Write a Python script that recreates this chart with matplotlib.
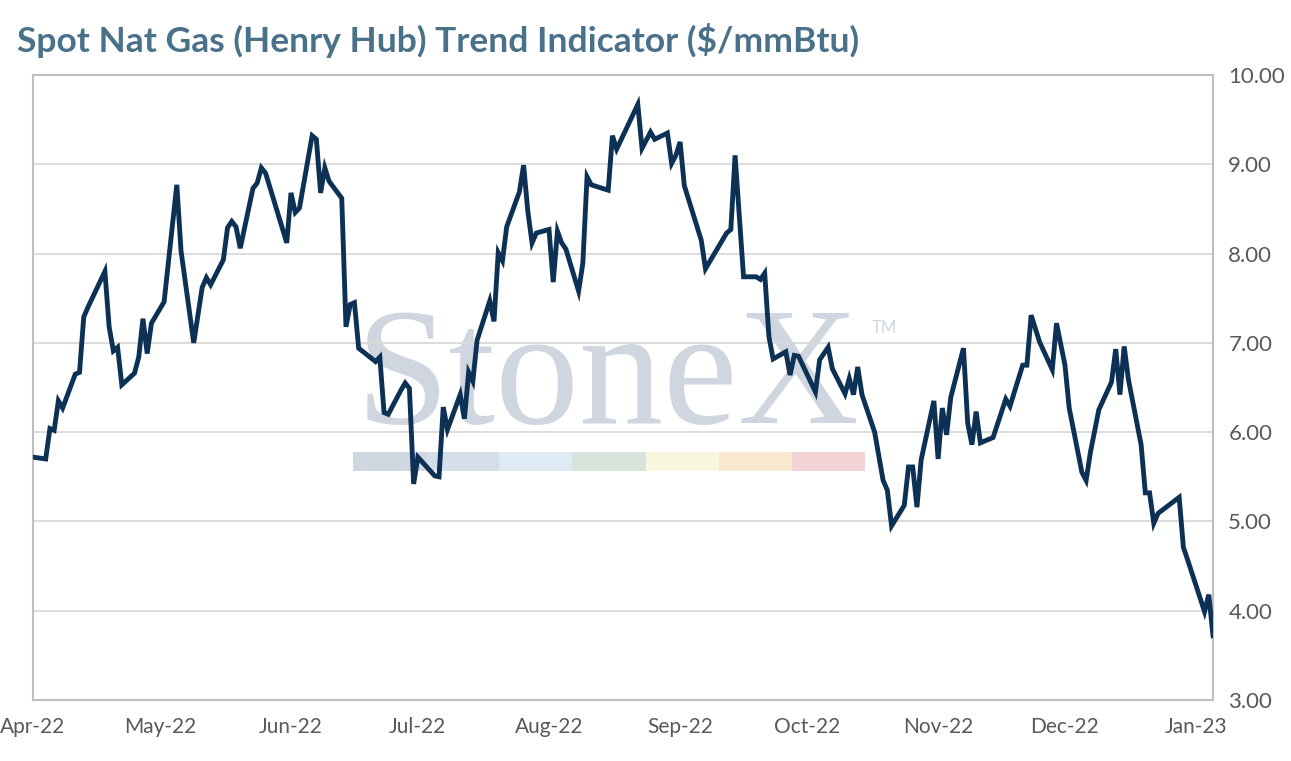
import pandas as pd
import matplotlib.pyplot as plt
import matplotlib.dates as mdates
from matplotlib.patches import Rectangle

dates = [
    "2022-04-01", "2022-04-04", "2022-04-05", "2022-04-06", "2022-04-07", "2022-04-08",
    "2022-04-11", "2022-04-12", "2022-04-13", "2022-04-14", "2022-04-18", "2022-04-19",
    "2022-04-20", "2022-04-21", "2022-04-22", "2022-04-25", "2022-04-26", "2022-04-27",
    "2022-04-28", "2022-04-29", "2022-05-02", "2022-05-05", "2022-05-06", "2022-05-09",
    "2022-05-11", "2022-05-12", "2022-05-13", "2022-05-16", "2022-05-17", "2022-05-18",
    "2022-05-19", "2022-05-20", "2022-05-23", "2022-05-24", "2022-05-25", "2022-05-26",
    "2022-05-31", "2022-06-01", "2022-06-02", "2022-06-03", "2022-06-06", "2022-06-07",
    "2022-06-08", "2022-06-09", "2022-06-10", "2022-06-13", "2022-06-14", "2022-06-15",
    "2022-06-16", "2022-06-17", "2022-06-21", "2022-06-22", "2022-06-23", "2022-06-24",
    "2022-06-27", "2022-06-28", "2022-06-29", "2022-06-30", "2022-07-01", "2022-07-05",
    "2022-07-06", "2022-07-07", "2022-07-08", "2022-07-11", "2022-07-12", "2022-07-13",
    "2022-07-14", "2022-07-15", "2022-07-18", "2022-07-19", "2022-07-20", "2022-07-21",
    "2022-07-22", "2022-07-25", "2022-07-26", "2022-07-27", "2022-07-28", "2022-07-29",
    "2022-08-01", "2022-08-02", "2022-08-03", "2022-08-04", "2022-08-05", "2022-08-08",
    "2022-08-09", "2022-08-10", "2022-08-11", "2022-08-15", "2022-08-16", "2022-08-17",
    "2022-08-22", "2022-08-23", "2022-08-25", "2022-08-26", "2022-08-29", "2022-08-30",
    "2022-08-31", "2022-09-01", "2022-09-02", "2022-09-06", "2022-09-07", "2022-09-12",
    "2022-09-13", "2022-09-14", "2022-09-16", "2022-09-19", "2022-09-20", "2022-09-21",
    "2022-09-22", "2022-09-23", "2022-09-26", "2022-09-27", "2022-09-28", "2022-09-29",
    "2022-10-03", "2022-10-04", "2022-10-06", "2022-10-07", "2022-10-10", "2022-10-11",
    "2022-10-12", "2022-10-13", "2022-10-14", "2022-10-17", "2022-10-19", "2022-10-20",
    "2022-10-21", "2022-10-24", "2022-10-25", "2022-10-26", "2022-10-27", "2022-10-28",
    "2022-10-31", "2022-11-01", "2022-11-02", "2022-11-03", "2022-11-04", "2022-11-07",
    "2022-11-08", "2022-11-09", "2022-11-10", "2022-11-11", "2022-11-14", "2022-11-17",
    "2022-11-18", "2022-11-21", "2022-11-22", "2022-11-23", "2022-11-25", "2022-11-28",
    "2022-11-29", "2022-12-01", "2022-12-02", "2022-12-05", "2022-12-06", "2022-12-07",
    "2022-12-09", "2022-12-12", "2022-12-13", "2022-12-14", "2022-12-15", "2022-12-16",
    "2022-12-19", "2022-12-20", "2022-12-21", "2022-12-22", "2022-12-23", "2022-12-28",
    "2022-12-29", "2022-12-30", "2023-01-03", "2023-01-04", "2023-01-05",
]

prices = [
    5.72, 5.70, 6.04, 6.02, 6.35, 6.27,
    6.65, 6.67, 7.29, 7.40, 7.80, 7.18,
    6.91, 6.95, 6.53, 6.66, 6.84, 7.27,
    6.88, 7.22, 7.46, 8.77, 8.03, 7.00,
    7.62, 7.73, 7.65, 7.93, 8.29, 8.36,
    8.30, 8.06, 8.73, 8.79, 8.96, 8.90,
    8.12, 8.68, 8.46, 8.51, 9.32, 9.28,
    8.68, 8.96, 8.81, 8.62, 7.18, 7.43,
    7.45, 6.94, 6.79, 6.84, 6.22, 6.20,
    6.47, 6.55, 6.49, 5.42, 5.72, 5.51,
    5.50, 6.28, 6.03, 6.42, 6.15, 6.67,
    6.57, 7.03, 7.47, 7.24, 8.01, 7.92,
    8.30, 8.69, 8.99, 8.47, 8.12, 8.23,
    8.27, 7.68, 8.25, 8.12, 8.05, 7.58,
    7.89, 8.86, 8.77, 8.71, 9.32, 9.17,
    9.67, 9.18, 9.36, 9.28, 9.35, 9.01,
    9.10, 9.25, 8.76, 8.15, 7.83, 8.23,
    8.27, 9.10, 7.74, 7.74, 7.71, 7.78,
    7.07, 6.82, 6.90, 6.64, 6.86, 6.85,
    6.45, 6.81, 6.95, 6.71, 6.43, 6.60,
    6.42, 6.73, 6.42, 6.00, 5.46, 5.35,
    4.95, 5.18, 5.61, 5.61, 5.16, 5.69,
    6.35, 5.70, 6.27, 5.97, 6.39, 6.94,
    6.10, 5.86, 6.23, 5.88, 5.94, 6.37,
    6.29, 6.75, 6.75, 7.31, 7.01, 6.70,
    7.22, 6.75, 6.27, 5.55, 5.46, 5.77,
    6.25, 6.56, 6.93, 6.42, 6.96, 6.59,
    5.86, 5.32, 5.32, 4.98, 5.09, 5.27,
    4.71, 4.57, 3.99, 4.18, 3.72,
]

y_ticks = [3, 4, 5, 6, 7, 8, 9, 10]
watermark_colors = ['#cfd7e0', '#d4dee9', '#deebf5', '#d6e4dc', '#f8f6dc', '#fae8d0', '#f2d4d6']

series = pd.Series(prices, index=pd.to_datetime(dates))

plt.rcParams['font.family'] = ['Lato', 'DejaVu Sans']

fig = plt.figure(figsize=(12.91, 7.61), dpi=100)
ax = fig.add_axes([33 / 1291, 1 - 700 / 761, 1180 / 1291, 625 / 761])

# watermark (axes coords, behind the grid)
seg_w = (0.7051 - 0.2712) / len(watermark_colors)
for i, c in enumerate(watermark_colors):
    ax.add_patch(Rectangle((0.2712 + i * seg_w, 0.3664), seg_w, 0.0304,
                           transform=ax.transAxes, facecolor=c, edgecolor='none', zorder=0.1))
ax.text(0.2737, 0.4432, 'StoneX', transform=ax.transAxes, family='Liberation Serif',
        fontsize=121, color='#cfd6df', va='baseline', ha='left', zorder=0.2)
ax.text(0.711, 0.587, 'TM', transform=ax.transAxes, fontsize=12, color='#cfd6df',
        va='baseline', ha='left', zorder=0.2)

ax.plot(series.index, series.values, color='#0d3154', linewidth=3.5,
        solid_joinstyle='miter', zorder=3)

ax.set_ylim(3, 10)
ax.set_yticks(y_ticks)
ax.yaxis.tick_right()
ax.yaxis.set_major_formatter(plt.FuncFormatter(lambda v, p: f"{v:.2f}"))
ax.set_xlim(series.index[0], series.index[-1])
ax.xaxis.set_major_locator(mdates.MonthLocator())
ax.xaxis.set_major_formatter(mdates.DateFormatter('%b-%y'))

ax.grid(axis='y', color='#d9d9d9', linewidth=1.3)
ax.set_axisbelow(True)
for s in ax.spines.values():
    s.set_color('#bfbfbf')
    s.set_linewidth(1.5)
ax.tick_params(axis='both', length=0, labelsize=15, labelcolor='#595959')
ax.tick_params(axis='y', pad=11, labelsize=16)
ax.tick_params(axis='x', pad=12)

fig.text(17 / 1291, 1 - 40 / 761, 'Spot Nat Gas (Henry Hub) Trend Indicator ($/mmBtu)',
         fontsize=25.5, fontweight='bold', color='#4a718a', va='center', ha='left')

fig.savefig('out.png', dpi=100)
